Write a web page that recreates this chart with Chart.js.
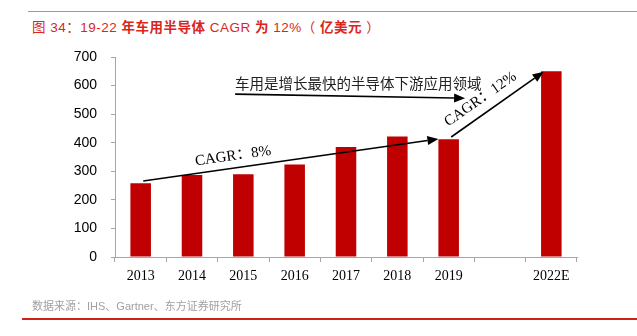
<!DOCTYPE html>
<html>
<head>
<meta charset="utf-8">
<script src="https://cdn.jsdelivr.net/npm/chart.js@4"></script>
<style>
  html, body { margin: 0; padding: 0; background: #fff; }
  body { width: 637px; height: 336px; position: relative; overflow: hidden; }
  #topline { position: absolute; left: 28px; top: 11px; width: 609px; height: 1px; background: #E77; }
  #title { position: absolute; left: 32px; top: 16px; font: 13.5px "Liberation Sans", "Noto Sans CJK SC", sans-serif; letter-spacing: 0.5px; color: #D9261C; white-space: nowrap; }
  #title b { font-weight: bold; }
  #source { position: absolute; left: 32px; top: 297px; font: 11px "Liberation Sans", "Noto Sans CJK SC", sans-serif; color: #A0A0A0; white-space: nowrap; }
  #botline { position: absolute; left: 22px; top: 318px; width: 615px; height: 2px; background: #D0201A; }
  #wrap { position: absolute; left: 0; top: 0; width: 637px; height: 336px; }
</style>
</head>
<body>
<div id="topline"></div>
<div id="title">图 34：19-22 <b>年车用半导体</b> CAGR <b>为</b> 12%（ <b>亿美元</b> ）</div>
<div id="wrap"><canvas id="chart" width="637" height="336"></canvas></div>
<div id="source">数据来源：IHS、Gartner、东方证券研究所</div>
<div id="botline"></div>

<script>
// categories and values (亿美元)
const years = ["2013", "2014", "2015", "2016", "2017", "2018", "2019", "", "2022E"];
const sales = [258, 287, 290, 324, 385, 422, 412, null, 650];

// arrows in data units: [fromIndex, fromValue, toIndex, toValue]
const arrows = [
    [0.05, 266, 5.8, 413],
    [6.05, 420, 7.85, 648],
    [1.84, 570, 6.32, 556]
];
// labels in data units: [text, index, value, angle(deg)]
const notes = [
    ["CAGR：8%", 1.8, 353, -8],
    ["CAGR：12%", 6.62, 552, -35]
];
const headline = ["车用是增长最快的半导体下游应用领域", 1.84, 608];

const annotate = {
    id: "annotate",
    afterDatasetsDraw(chart) {
        const ctx = chart.ctx;
        const xs = chart.scales.x, ys = chart.scales.y;
        const px = i => xs.getPixelForValue(0) + i * (xs.getPixelForValue(1) - xs.getPixelForValue(0));
        ctx.save();
        ctx.strokeStyle = "#000";
        ctx.fillStyle = "#000";
        ctx.lineWidth = 1.6;
        for (const a of arrows) {
            const x1 = px(a[0]), y1 = ys.getPixelForValue(a[1]);
            const x2 = px(a[2]), y2 = ys.getPixelForValue(a[3]);
            const ang = Math.atan2(y2 - y1, x2 - x1);
            const hl = 11, hw = 4.5;
            const bx = x2 - hl * Math.cos(ang), by = y2 - hl * Math.sin(ang);
            ctx.beginPath();
            ctx.moveTo(x1, y1);
            ctx.lineTo(bx, by);
            ctx.stroke();
            ctx.beginPath();
            ctx.moveTo(x2, y2);
            ctx.lineTo(bx + hw * Math.sin(ang), by - hw * Math.cos(ang));
            ctx.lineTo(bx - hw * Math.sin(ang), by + hw * Math.cos(ang));
            ctx.closePath();
            ctx.fill();
        }
        ctx.font = '15px "Liberation Serif", "Noto Sans CJK SC", serif';
        ctx.textAlign = "center";
        ctx.textBaseline = "middle";
        for (const n of notes) {
            ctx.save();
            ctx.translate(px(n[1]), ys.getPixelForValue(n[2]));
            ctx.rotate(n[3] * Math.PI / 180);
            ctx.fillText(n[0], 0, 0);
            ctx.restore();
        }
        ctx.font = '14.5px "Noto Sans CJK SC", sans-serif';
        ctx.textAlign = "left";
        ctx.fillStyle = "#222";
        ctx.fillText(headline[0], px(headline[1]), ys.getPixelForValue(headline[2]));
        ctx.restore();
    }
};

const ctx = document.getElementById("chart").getContext("2d");
new Chart(ctx, {
    type: "bar",
    data: {
        labels: years,
        datasets: [{
            data: sales,
            backgroundColor: "#C00000",
            borderWidth: 0,
            barPercentage: 0.8,
            categoryPercentage: 0.5
        }]
    },
    options: {
        responsive: false,
        animation: false,
        layout: { padding: { left: 0, right: 60, top: 57, bottom: 49 } },
        plugins: { legend: { display: false }, tooltip: { enabled: false } },
        scales: {
            x: {
                afterFit: s => { s.height = 30; },
                grid: { offset: true, drawOnChartArea: false, tickLength: 5, color: "#A6A6A6" },
                border: { color: "#A6A6A6" },
                ticks: { color: "#000", padding: 6, font: { family: "Liberation Serif", size: 14 } }
            },
            y: {
                min: 0, max: 700,
                afterFit: s => { s.width = 115; },
                grid: { drawOnChartArea: false, tickLength: 4, color: "#A6A6A6" },
                border: { color: "#A6A6A6" },
                ticks: { stepSize: 100, color: "#000", padding: 14, font: { family: "Liberation Sans", size: 14 } }
            }
        }
    },
    plugins: [annotate]
});
</script>
</body>
</html>
